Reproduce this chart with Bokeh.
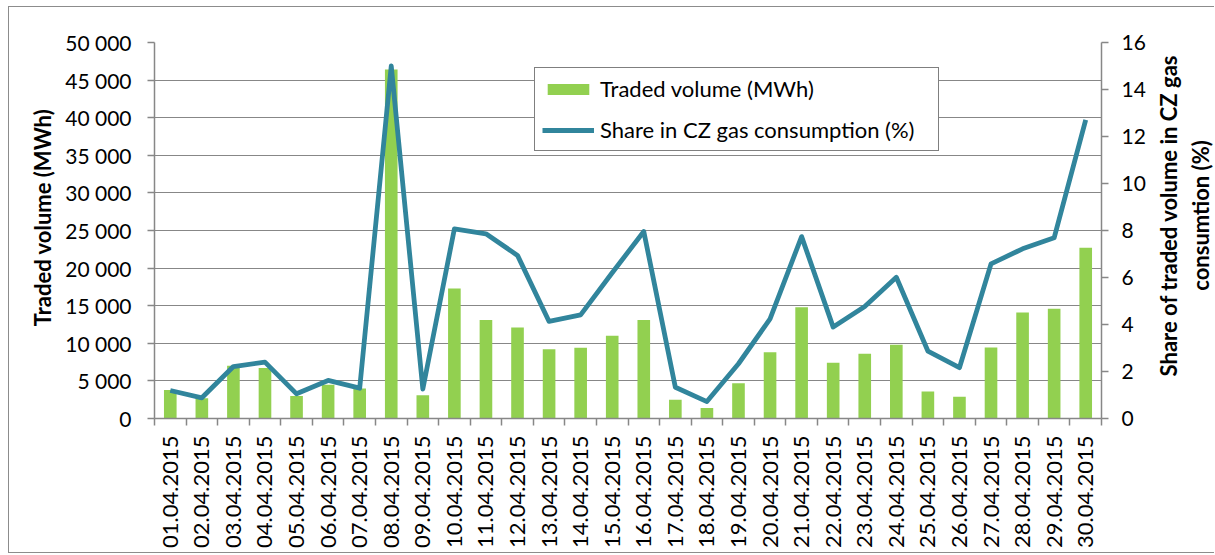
import numpy as np
from bokeh.plotting import figure
from bokeh.models import Range1d, LinearAxis, FixedTicker, Legend, LegendItem, Label
from bokeh.embed import file_html
from bokeh.resources import INLINE

dates = ["01.04.2015", "02.04.2015", "03.04.2015", "04.04.2015", "05.04.2015",
         "06.04.2015", "07.04.2015", "08.04.2015", "09.04.2015", "10.04.2015",
         "11.04.2015", "12.04.2015", "13.04.2015", "14.04.2015", "15.04.2015",
         "16.04.2015", "17.04.2015", "18.04.2015", "19.04.2015", "20.04.2015",
         "21.04.2015", "22.04.2015", "23.04.2015", "24.04.2015", "25.04.2015",
         "26.04.2015", "27.04.2015", "28.04.2015", "29.04.2015", "30.04.2015"]
volume_mwh = [3800, 2700, 7000, 6700, 3000, 4500, 4000, 46400, 3100, 17300,
              13100, 12100, 9200, 9400, 11000, 13100, 2500, 1400, 4700, 8800,
              14800, 7400, 8600, 9800, 3600, 2900, 9450, 14100, 14600, 22700]
share_pct = [1.19, 0.88, 2.21, 2.40, 1.05, 1.62, 1.29, 15.0, 1.25, 8.07,
             7.86, 6.94, 4.13, 4.41, 6.2, 7.96, 1.33, 0.72, 2.33, 4.24,
             7.74, 3.89, 4.77, 6.01, 2.87, 2.16, 6.58, 7.22, 7.69, 12.71]
left_ticks = [0, 5000, 10000, 15000, 20000, 25000, 30000, 35000, 40000, 45000, 50000]
right_ticks = [0, 2, 4, 6, 8, 10, 12, 14, 16]
left_title = "Traded volume (MWh)"
right_title = "Share of traded volume in CZ gas\nconsumtion (%)"

FONT = "Lato"
GREY = "#878787"
GREEN = "#92D050"
TEAL = "#31859C"

n = len(dates)
xs = list(range(n))

p = figure(width=1206, height=547, x_range=Range1d(-0.5, n - 0.5),
           y_range=Range1d(left_ticks[0], left_ticks[-1]),
           output_backend="svg", toolbar_location=None,
           min_border_left=146, min_border_right=113,
           min_border_top=36, min_border_bottom=135)
p.outline_line_color = None
p.border_fill_color = None
p.background_fill_color = None
p.styles = {"box-shadow": "inset 1px 1px 0 #8c8c8c, inset 0 -1px 0 #8c8c8c",
            "background": "white", "margin-left": "8px", "margin-top": "6px"}

p.extra_y_ranges = {"share": Range1d(right_ticks[0], right_ticks[-1])}

bars = p.vbar(x=xs, top=volume_mwh, width=0.4, fill_color=GREEN, line_color=None)
line = p.line(x=xs, y=share_pct, y_range_name="share", line_color=TEAL,
              line_width=4.8, line_join="round")

# x axis
xa = p.xaxis[0]
xa.ticker = FixedTicker(ticks=xs, minor_ticks=[i - 0.5 for i in range(n + 1)])
xa.major_label_overrides = {i: d for i, d in enumerate(dates)}
xa.major_label_orientation = np.pi / 2
xa.major_tick_out = 0
xa.major_tick_in = 0
xa.minor_tick_out = 7
xa.minor_tick_in = 0
xa.minor_tick_line_color = GREY
xa.minor_tick_line_width = 1.5
xa.axis_line_color = GREY
xa.axis_line_width = 1.5
xa.major_label_standoff = 10
xa.major_label_text_font = FONT
xa.major_label_text_font_size = "22px"
xa.major_label_text_color = "black"

# left axis
ya = p.yaxis[0]
ya.ticker = FixedTicker(ticks=left_ticks)
ya.major_label_overrides = {t: f"{t:,}".replace(",", " ") for t in left_ticks}

# right axis
ra = LinearAxis(y_range_name="share", ticker=FixedTicker(ticks=right_ticks))
p.add_layout(ra, "right")

for ax, standoff in ((ya, 16), (ra, 13)):
    ax.minor_tick_line_color = None
    ax.major_tick_out = 7
    ax.major_tick_in = 0
    ax.major_tick_line_color = GREY
    ax.major_tick_line_width = 1.5
    ax.axis_line_color = GREY
    ax.axis_line_width = 1.5
    ax.major_label_standoff = standoff
    ax.major_label_text_font = FONT
    ax.major_label_text_font_size = "21px"
    ax.major_label_text_color = "black"

p.ygrid.ticker = FixedTicker(ticks=left_ticks)
p.ygrid.grid_line_color = GREY
p.ygrid.grid_line_width = 1.2
p.xgrid.visible = False

# axis titles as labels in the side panels (screen units relative to the panel)
def title(text, x, y, side):
    lab = Label(x=x, y=y, x_units="screen", y_units="screen", text=text,
                angle=np.pi / 2, text_align="center", text_baseline="middle",
                text_font=FONT, text_font_size="22px", text_font_style="bold",
                text_color="black")
    p.add_layout(lab, side)

title(left_title, 7, 201, "left")
title(right_title, 36, 203, "right")

legend = Legend(items=[LegendItem(label="Traded volume (MWh)", renderers=[bars]),
                       LegendItem(label="Share in CZ gas consumption (%)", renderers=[line])],
                location=(380, 267))
legend.label_text_font = FONT
legend.label_text_font_size = "22px"
legend.label_text_color = "black"
legend.glyph_width = 52
legend.glyph_height = 14
legend.label_standoff = 6
legend.label_width = 331
legend.padding = 7
legend.spacing = 14
legend.border_line_color = "black"
legend.border_line_width = 1.5
legend.background_fill_color = "white"
legend.background_fill_alpha = 1
legend.margin = 0
p.add_layout(legend)

open("out.html", "w").write(file_html(p, INLINE))
